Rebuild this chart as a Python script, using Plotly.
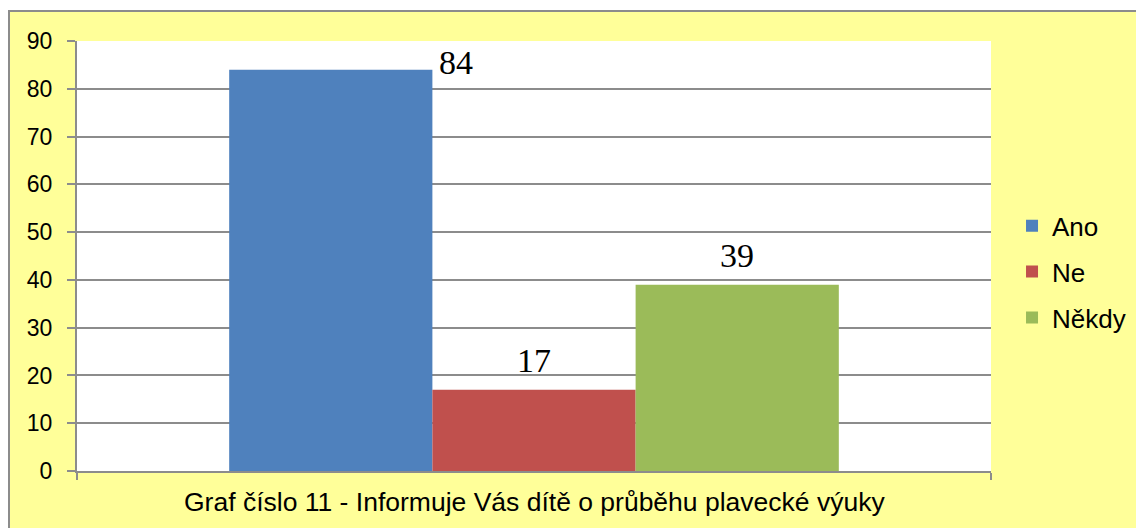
import plotly.graph_objects as go

categories = ["Ano", "Ne", "Někdy"]
values = [84, 17, 39]
colors = ["#4F81BD", "#C0504D", "#9BBB59"]
y_ticks = [0, 10, 20, 30, 40, 50, 60, 70, 80, 90]
x_title = "Graf číslo 11 - Informuje Vás dítě o průběhu plavecké výuky"

fig = go.Figure()
for name, v, c in zip(categories, values, colors):
    fig.add_trace(go.Bar(
        x=[""], y=[v], name=name, marker_color=c, marker_line_width=0,
        legendgroup=name,
    ))

# data labels
bargap = 0.333
w = (1 - bargap) / len(categories)
for i, v in enumerate(values):
    center = -0.5 + bargap / 2 + w * (i + 0.5)
    if i == 0:
        fig.add_annotation(x=center + w / 2, y=v, xref="x", yref="y",
                           text=str(v), showarrow=False, xanchor="left",
                           yanchor="middle", xshift=5, yshift=7,
                           font=dict(family="Liberation Serif", size=34, color="black"))
    else:
        fig.add_annotation(x=center, y=v, xref="x", yref="y",
                           text=str(v), showarrow=False, xanchor="center",
                           yanchor="bottom", yshift=9,
                           font=dict(family="Liberation Serif", size=34, color="black"))

W, H = 1180, 520
L, R, T, B = 69, 197, 33, 57
pw, ph = W - L - R, H - T - B


def px(x):
    return (x - L) / pw


def py(y):
    return (H - B - y) / ph


# axis title as a paper annotation
fig.add_annotation(x=0.5, y=py(494), xref="paper", yref="paper",
                   text=x_title, showarrow=False, xanchor="center",
                   yanchor="middle",
                   font=dict(family="Liberation Sans", size=26.5, color="black"))

# white strip above the chart frame
fig.add_shape(type="rect", xref="paper", yref="paper",
              x0=px(-5), x1=px(W + 5), y0=py(3), y1=py(-5),
              line=dict(width=0), fillcolor="white", layer="above")
# chart frame (top and left edges)
fig.add_shape(type="line", xref="paper", yref="paper",
              x0=px(0), x1=px(W + 5), y0=py(3), y1=py(3),
              line=dict(color="#8C8C8C", width=2), layer="above")
fig.add_shape(type="line", xref="paper", yref="paper",
              x0=px(1), x1=px(1), y0=py(3), y1=py(H + 5),
              line=dict(color="#8C8C8C", width=2), layer="above")

fig.update_layout(
    width=W, height=H,
    margin=dict(l=L, r=R, t=T, b=B, pad=0, autoexpand=False),
    paper_bgcolor="#FFFF99",
    plot_bgcolor="white",
    barmode="group", bargap=bargap, bargroupgap=0,
    font=dict(family="Liberation Sans", color="black"),
    showlegend=True,
    legend=dict(x=1.023, y=0.463, xanchor="left", yanchor="middle",
                font=dict(size=26, family="Liberation Sans"),
                tracegroupgap=9, traceorder="grouped",
                itemwidth=30, bgcolor="rgba(0,0,0,0)"),
    xaxis=dict(showticklabels=False, ticks="outside", tickson="boundaries",
               ticklen=7, tickcolor="#8C8C8C", tickwidth=2, automargin=False,
               showline=True, linecolor="#8C8C8C", linewidth=2),
    yaxis=dict(range=[0, 90], tickvals=y_ticks, ticks="outside", ticklen=8,
               tickcolor="#8C8C8C", tickwidth=2, ticklabelstandoff=10,
               automargin=False,
               showline=True, linecolor="#8C8C8C", linewidth=2,
               showgrid=True, gridcolor="#8C8C8C", gridwidth=2,
               tickfont=dict(size=23), zeroline=False),
)

fig.write_html("out.html")
